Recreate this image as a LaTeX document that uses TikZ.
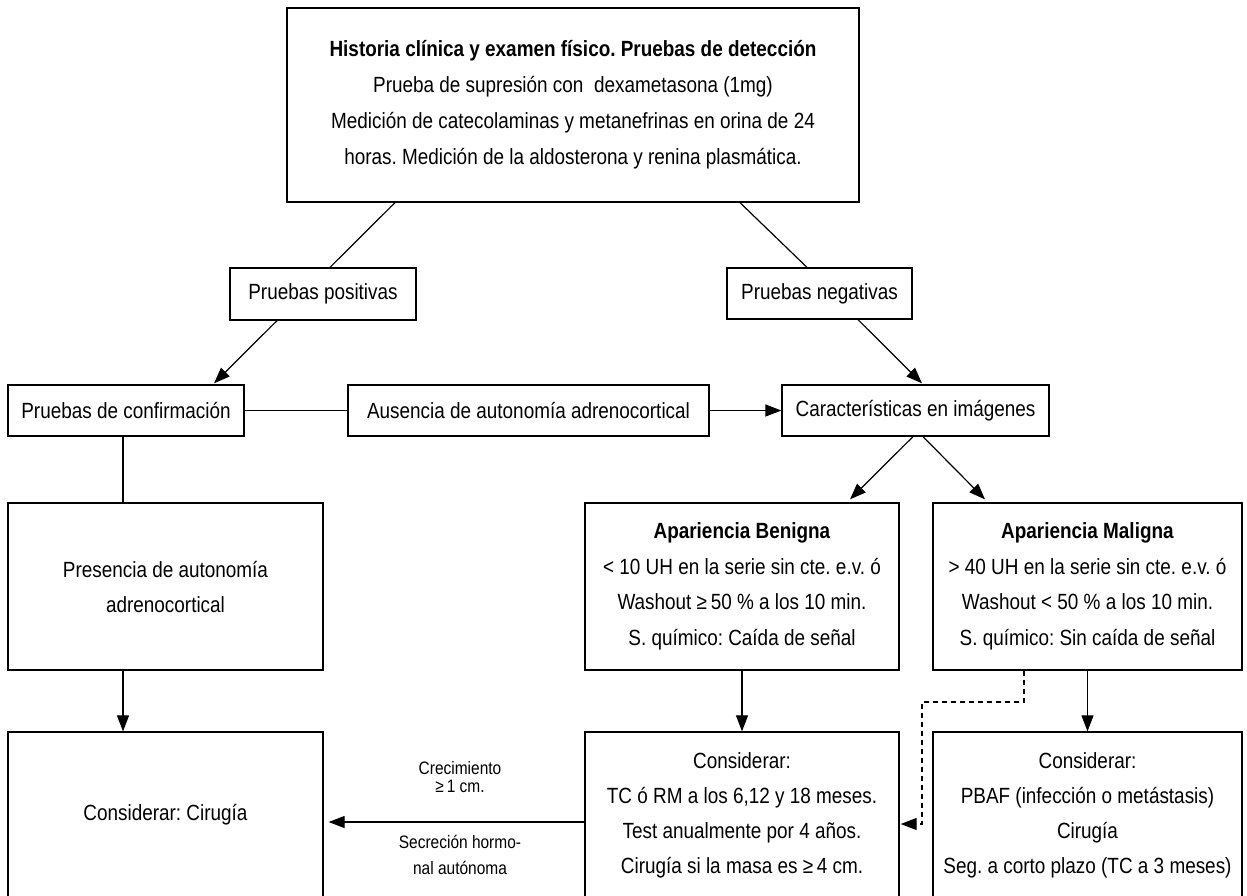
\documentclass[tikz,border=0pt]{standalone}
\usepackage{fontspec}
\setmainfont{Liberation Sans}[FakeStretch=0.86]
\usetikzlibrary{arrows.meta,calc}
\frenchspacing
\begin{document}
\begin{tikzpicture}[x=1pt,y=-1pt,
  box/.style={draw, line width=1.3pt, align=center, inner sep=0pt, font=\fontsize{22}{36}\selectfont},
  conn/.style={line width=1.2pt},
  arr/.style={conn, -{Triangle[length=16pt,width=12pt]}},
  lab/.style={align=center, inner sep=0pt}]
\useasboundingbox (0,0) rectangle (1247,895);
\fill[white] (0,0) rectangle (1247,895);

\node[box, minimum width=572pt, minimum height=194pt] (top) at (573,105)
 {\textbf{Historia clínica y examen físico. Pruebas de detección}\\
  Prueba de supresión con\ \ dexametasona (1mg)\\
  Medición de catecolaminas y metanefrinas en orina de 24\\
  horas. Medición de la aldosterona y renina plasmática.};
\node[box, minimum width=186pt, minimum height=52pt] (pos) at (323,294) {Pruebas positivas};
\node[box, minimum width=185pt, minimum height=51pt] (neg) at (819.5,293.5) {Pruebas negativas};
\node[box, minimum width=236pt, minimum height=51pt] (conf) at (126,410.5) {Pruebas de confirmación};
\node[box, minimum width=361pt, minimum height=51pt] (aus) at (528.5,410.5) {Ausencia de autonomía adrenocortical};
\node[box, minimum width=267pt, minimum height=51pt] (car) at (915.5,410.5) {Características en imágenes};
\node[box, minimum width=315pt, minimum height=167pt, font=\fontsize{22}{35}\selectfont] (pres) at (165.5,586.5)
 {Presencia de autonomía\\adrenocortical};
\node[box, minimum width=314pt, minimum height=167pt, font=\fontsize{22}{35.5}\selectfont] (ben) at (742,586.5)
 {\textbf{Apariencia Benigna}\\
  < 10 UH en la serie sin cte. e.v. ó\\
  Washout ≥\,50 \% a los 10 min.\\
  S. químico: Caída de señal};
\node[box, minimum width=309pt, minimum height=167pt, font=\fontsize{22}{35.5}\selectfont] (mal) at (1087.5,586.5)
 {\textbf{Apariencia Maligna}\\
  > 40 UH en la serie sin cte. e.v. ó\\
  Washout < 50 \% a los 10 min.\\
  S. químico: Sin caída de señal};
\node[box, minimum width=315pt, minimum height=166pt] (cir) at (165.5,815) {Considerar: Cirugía};
\node[box, minimum width=314pt, minimum height=166pt, font=\fontsize{22}{35}\selectfont] (tc) at (742,815)
 {Considerar:\\
  TC ó RM a los 6,12 y 18 meses.\\
  Test anualmente por 4 años.\\
  Cirugía si la masa es ≥\,4 cm.};
\node[box, minimum width=309pt, minimum height=166pt, font=\fontsize{22}{35}\selectfont] (pbaf) at (1087.5,815)
 {Considerar:\\
  PBAF (infección o metástasis)\\
  Cirugía\\
  Seg. a corto plazo (TC a 3 meses)};

\node[lab, font=\fontsize{18}{18}\selectfont] (l1) at (460,777) {Crecimiento\\≥\,1 cm.};
\node[lab, font=\fontsize{18}{26}\selectfont] (l2) at (460,855) {Secreción hormo-\\nal autónoma};

\coordinate (cx) at (123,0);
\coordinate (dk) at (922,702);

\draw[conn] ($(top.south)+(-178,0)$) -- ($(pos.north)+(7,0)$);
\draw[conn] ($(top.south)+(167,0)$) -- ($(neg.north)+(-12.5,0)$);
\draw[arr] ($(pos.south)+(-46,0)$) -- ($(conf.north)+(88,-1)$);
\draw[arr] ($(neg.south)+(38.5,0)$) -- ($(car.north)+(6.5,-1)$);
\draw[conn] (conf.east) -- (aus.west);
\draw[arr] (aus.east) -- (car.west);
\draw[arr] ($(car.south)+(-2.5,0)$) -- ($(ben.north)+(108,-3)$);
\draw[arr] ($(car.south)+(7.5,0)$) -- ($(mal.north)+(-102.5,-3)$);
\draw[conn] (conf.south -| cx) -- (pres.north -| cx);
\draw[arr] (pres.south -| cx) -- (cir.north -| cx);
\draw[arr] (ben.south) -- (tc.north);
\draw[arr] (mal.south) -- (pbaf.north);
\draw[arr] ($(tc.west)+(0,7)$) -- ($(cir.east)+(5,7)$);
\draw[arr, dashed, dash pattern=on 5pt off 4pt] ($(mal.south)+(-63.5,0)$) |- (dk) |- ($(tc.east)+(1,9)$);
\end{tikzpicture}
\end{document}
